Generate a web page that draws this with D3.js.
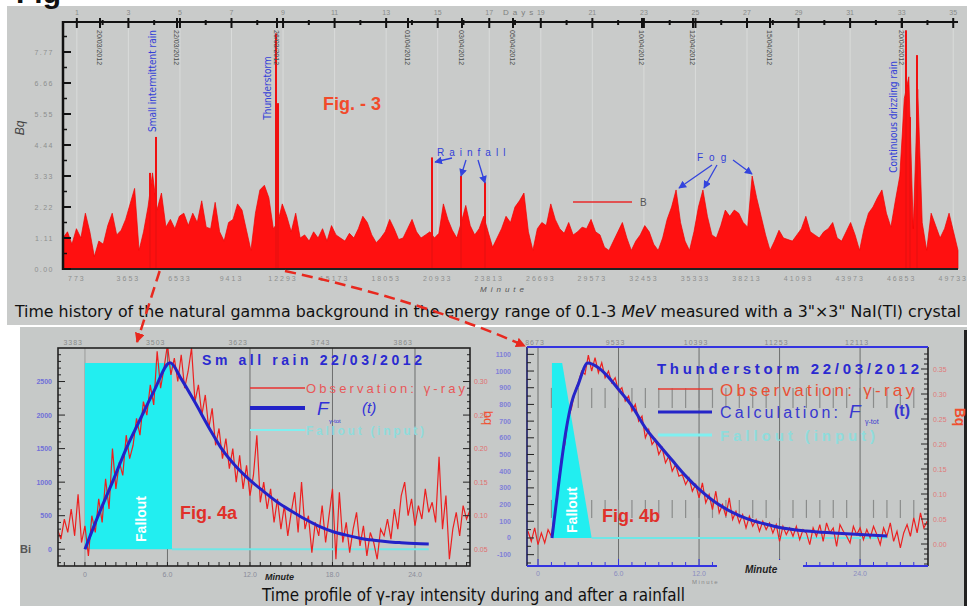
<!DOCTYPE html>
<html>
<head>
<meta charset="utf-8">
<script src="https://cdn.jsdelivr.net/npm/d3@7"></script>
<style>
  html, body { margin: 0; padding: 0; background: #fff; }
  svg text { font-family: "Liberation Sans", Arial, sans-serif; }
</style>
</head>
<body>
<div id="fig"></div>
<script>
// ---------------- data ----------------

// Fig 3: background count rate, one reading every 250 minutes (axis units)
let bgStep = 250;
let bgValues = [
  1.0,1.2,0.8,1.3,1.0,1.8,1.2,0.4,0.9,0.8,
  1.4,1.8,1.1,1.25,1.6,2.1,2.6,0.6,1.2,2.0,
  3.1,1.9,2.45,1.35,1.6,1.3,1.7,1.8,1.4,1.8,
  1.5,2.2,1.35,1.3,2.15,1.2,0.9,1.5,1.6,2.1,
  1.9,1.25,0.6,1.8,2.55,2.7,2.3,1.3,1.5,2.1,
  1.7,1.2,1.8,1.0,1.1,0.9,1.2,1.0,1.3,0.9,
  1.4,1.1,1.0,0.9,1.15,1.0,1.3,1.7,1.5,1.1,
  0.85,1.0,1.2,1.6,1.3,0.95,1.0,1.3,1.6,1.2,
  1.0,1.1,1.2,1.0,1.15,2.1,1.6,1.25,1.0,1.5,
  2.05,1.4,1.1,1.3,1.7,1.2,0.7,1.0,1.3,1.7,
  1.5,2.0,2.2,2.45,1.2,0.6,1.3,1.5,1.4,2.1,
  1.6,1.3,1.15,1.5,1.1,1.2,1.35,1.3,1.6,1.2,
  1.1,0.7,0.6,0.9,1.2,1.5,1.0,0.6,0.9,1.1,
  1.4,1.2,0.8,0.6,1.0,1.6,2.0,2.55,1.5,0.9,
  0.6,1.2,2.0,2.55,1.7,1.1,1.0,1.4,1.9,1.7,
  1.9,1.8,1.5,1.35,3.0,2.3,1.7,1.1,0.6,0.9,
  1.25,1.0,0.95,0.9,1.1,1.3,1.7,1.2,1.1,1.0,
  1.2,1.3,1.5,1.0,0.9,1.2,1.5,1.1,0.6,1.3,
  1.8,2.0,2.3,2.55,1.8,1.35,2.2,3.0,5.5,6.2,
  1.3,5.8,1.5,0.6,1.8,1.4,1.0,1.3,1.8,1.2,
  0.6
];
// narrow rain spikes (minute, value)
let spikeMinutes = [4860, 5196, 11899, 12011, 20615, 22235, 23575, 47095, 47318, 47709];
let spikeValues  = [3.1, 4.26, 7.6, 5.35, 3.6, 3.0, 2.8, 7.7, 4.9, 6.9];

let dayLabels = [1,3,5,7,9,11,13,15,17,19,21,23,25,27,29,31,33,35];
let dayMinutes = [773,3653,6533,9413,12293,15173,18053,20933,23813,26693,29573,32453,35333,38213,41093,43973,46853,49733];
let topYLabels = ["0.00","1.11","2.22","3.33","4.44","5.55","6.66","7.77"];
let dateLabels = ["20/03/2012","22/03/2012","26/03/2012","01/04/2012","03/04/2012","05/04/2012","10/04/2012","12/04/2012","15/04/2012","20/04/2012"];
let dateMinutes = [2067, 6369, 11955, 19274, 22291, 25140, 32346, 35196, 39497, 46872];

// Fig 4a: small rain, observation every 0.25 from t = -2
let obsA_t0 = -2, obsA_dt = 0.25;
let obsA = [
  300,150,450,250,600,200,820,100,350,-100,
  500,250,750,400,1050,600,1500,900,1300,1100,
  1700,1350,1550,1950,1700,2200,2000,2450,2150,2950,
  2400,2700,3050,2600,2850,2500,2900,2400,2650,3000,
  2200,2450,2000,2300,1800,2100,1550,1800,1350,1650,
  1200,1500,1000,1400,900,1250,800,1100,1700,700,
  1000,600,900,400,750,300,650,200,550,850,
  250,1000,300,500,-50,400,200,650,100,500,
  900,-150,850,100,400,-50,300,550,50,350,
  -100,250,100,-150,300,200,450,150,600,300,
  800,1000,500,750,350,650,450,900,550,700,
  400,1380,300,800,-150,300,550,200,650,450,
  580
];
let fitA_t = [0,1,2,3,4,5,6.2,7,8,9,10,11,12,13,14,15,16,17,18,19,20,21,22,23,24,25];
let fitA_v = [0,520,1000,1500,1930,2350,2780,2540,2190,1820,1480,1230,1030,860,700,570,450,345,265,210,165,135,112,97,85,78];
let fallA_t = [0, 6.33, 25];   // start, end of input, end of zero line
let fallA_top = 2776;
let xLabelsA = ["0","6.0","12.0","18.0","24.0"];
let xTicksA = [0,6,12,18,24];
let topLabelsA = ["3383","3503","3623","3743","3863"];
let yTicksA = [0,500,1000,1500,2000,2500];
let rightLabelsA = ["0.05","0.10","0.15","0.20","0.25","0.30"];

// Fig 4b: thunderstorm, observation every 0.25 from t = -0.75
let obsB_t0 = -0.75, obsB_dt = 0.25;
let obsB = [
  40,-20,60,-40,30,-30,50,10,150,320,
  480,560,720,780,880,930,1000,980,1095,1000,
  1080,990,1050,960,1000,930,960,880,900,820,
  850,760,800,700,730,600,650,560,590,500,
  540,450,490,400,440,370,380,320,360,280,
  320,240,330,210,260,170,280,150,200,130,
  240,110,160,90,140,60,130,70,110,40,
  100,50,90,30,80,-20,70,20,60,10,
  70,-10,50,30,-40,60,10,80,-20,90,
  30,60,-50,80,40,10,-30,70,20,60,
  -10,50,0,70,20,-40,60,10,90,-20,
  40,-60,30,80,10,120,30,150,60,100
];
let fitB_t = [1.04,1.5,2.1,2.5,3.0,3.7,4.5,5.4,6,7,8,9,10,11,12,13,14,15,16,17,18,20,22,24,26];
let fitB_v = [0,300,650,810,920,1048,1020,950,890,790,660,560,465,372,292,226,174,134,104,82,63,42,30,20,12];
let fallB_t = [1.04, 1.8, 4.0, 1.04];
let fallB_v = [1048, 1048, 0, 0];
let fallB_lineEnd = 26;
let yTicksB = [-100,0,100,200,300,400,500,600,700,800,900,1000,1100];
let xLabelsB = ["0","6.0","12.0","18.0","24.0"];
let xTicksB = [0,6,12,18,24];
let topLabelsB = ["8673","9533","10393","11253","12113"];
let rightTicksB = [0,0.05,0.10,0.15,0.20,0.25,0.30,0.35];
let greyRowT = d3.range(1, 29);
let greyRows = [[779, 899], [120, 228]];

// ---------------- drawing ----------------
const BLUE = "#2a2ad0", CYAN = "#22eef0";

let svg = d3.select("#fig")
    .append("svg")
    .attr("width", 967)
    .attr("height", 606);

let defs = svg.append("defs");
function marker(id, color, size) {
    defs.append("marker").attr("id", id)
        .attr("viewBox", "0 0 10 10").attr("refX", 9).attr("refY", 5)
        .attr("markerWidth", size).attr("markerHeight", size)
        .attr("orient", "auto")
        .append("path").attr("d", "M0,0L10,5L0,10z").attr("fill", color);
}
marker("arrBlue", "#3344dd", 6);
marker("arrRed", "#e8281e", 4);

// backgrounds
svg.append("rect").attr("x", 7).attr("y", 6).attr("width", 960).attr("height", 319).attr("fill", "#c9cbca");
svg.append("rect").attr("x", 20).attr("y", 327).attr("width", 947).attr("height", 279).attr("fill", "#c6c9c8");
svg.append("rect").attr("x", 964).attr("y", 330).attr("width", 3).attr("height", 276).attr("fill", "#222");

// cropped heading at the very top (only its lower edge shows)
svg.append("text").attr("x", 16).attr("y", 3)
    .style("font-size", "30px").style("font-weight", "bold").attr("fill", "#111")
    .text("Fig");

// ======== Fig 3 (top) ========
let gTop = svg.append("g");
let xT = d3.scaleLinear().domain([0, 50000]).range([63, 958]);
let yT = d3.scaleLinear().domain([0, 8]).range([269, 21]);

// faint day grid
gTop.selectAll(".dgrid").data(dayMinutes).enter().append("line")
    .attr("x1", function(d) { return xT(d); }).attr("x2", function(d) { return xT(d); })
    .attr("y1", 23).attr("y2", 268)
    .attr("stroke", "#d9dbda").attr("stroke-width", 1);

// the background signal
let bgArea = d3.area()
    .x(function(d, i) { return xT(i * bgStep); })
    .y0(yT(0))
    .y1(function(d) { return yT(d); });
gTop.append("path").datum(bgValues)
    .attr("d", bgArea)
    .attr("fill", "#ff1010").attr("stroke", "#f00000").attr("stroke-width", 0.7);

gTop.selectAll(".spike").data(spikeMinutes).enter().append("line")
    .attr("x1", function(d) { return xT(d); }).attr("x2", function(d) { return xT(d); })
    .attr("y1", yT(0)).attr("y2", function(d, i) { return yT(spikeValues[i]); })
    .attr("stroke", "#f01010").attr("stroke-width", 2);

// axes
gTop.append("line").attr("x1", 63).attr("x2", 958).attr("y1", yT(8) + 1).attr("y2", yT(8) + 1).attr("stroke", "#111").attr("stroke-width", 2);
gTop.append("line").attr("x1", 63).attr("x2", 958).attr("y1", yT(0)).attr("y2", yT(0)).attr("stroke", "#222").attr("stroke-width", 2);
gTop.append("line").attr("x1", 63).attr("x2", 63).attr("y1", 21).attr("y2", 270).attr("stroke", "#111").attr("stroke-width", 2.5);

gTop.selectAll(".dtick").data(dayMinutes).enter().append("line")
    .attr("x1", function(d) { return xT(d); }).attr("x2", function(d) { return xT(d); })
    .attr("y1", 18).attr("y2", 28).attr("stroke", "#111").attr("stroke-width", 2);
gTop.selectAll(".mtick").data(dayMinutes.slice(0, -1)).enter().append("line")
    .attr("x1", function(d) { return xT(d + 1440); }).attr("x2", function(d) { return xT(d + 1440); })
    .attr("y1", 20).attr("y2", 25).attr("stroke", "#111").attr("stroke-width", 2);
gTop.selectAll(".dlab").data(dayLabels).enter().append("text")
    .attr("x", function(d, i) { return xT(dayMinutes[i]); }).attr("y", 15)
    .style("text-anchor", "middle").style("font-size", "7px").attr("fill", "#8a8c8b")
    .text(function(d) { return d; });
gTop.append("text").attr("x", 503).attr("y", 15)
    .style("font-size", "8px").style("letter-spacing", "4px").attr("fill", "#7d7f7e").text("Days");

// date ticks and rotated dates
gTop.selectAll(".datetick").data(dateMinutes).enter().append("line")
    .attr("x1", function(d) { return xT(d); }).attr("x2", function(d) { return xT(d); })
    .attr("y1", 18).attr("y2", 28).attr("stroke", "#111").attr("stroke-width", 2);
gTop.selectAll(".datelab").data(dateLabels).enter().append("text")
    .attr("transform", function(d, i) { return `translate(${xT(dateMinutes[i]) - 3}, 30) rotate(90)`; })
    .style("font-size", "7px").attr("fill", "#4a4c4b")
    .text(function(d) { return d; });

// left axis ticks + labels
gTop.selectAll(".ytick").data(d3.range(0, 8)).enter().append("line")
    .attr("x1", 63).attr("x2", 71)
    .attr("y1", function(d) { return yT(d); }).attr("y2", function(d) { return yT(d); })
    .attr("stroke", "#111").attr("stroke-width", 2);
gTop.selectAll(".ymin").data(d3.range(0.5, 8, 1)).enter().append("line")
    .attr("x1", 63).attr("x2", 67)
    .attr("y1", function(d) { return yT(d); }).attr("y2", function(d) { return yT(d); })
    .attr("stroke", "#111").attr("stroke-width", 1.5);
gTop.selectAll(".ylab").data(topYLabels).enter().append("text")
    .attr("x", 54).attr("y", function(d, i) { return yT(i) + 2.5; })
    .style("text-anchor", "end").style("font-size", "7px").style("letter-spacing", "1.5px")
    .attr("fill", "#8d8f8e")
    .text(function(d) { return d; });
gTop.append("text").attr("transform", "translate(24, 128) rotate(-90)")
    .style("text-anchor", "middle").style("font-size", "12px").style("font-style", "italic")
    .attr("fill", "#444").text("Bq");

// bottom minute labels
gTop.selectAll(".mlab").data(dayMinutes).enter().append("text")
    .attr("x", function(d) { return xT(d); }).attr("y", 281)
    .style("text-anchor", "middle").style("font-size", "7px").style("letter-spacing", "2px")
    .attr("fill", "#8d8f8e")
    .text(function(d) { return d; });
gTop.append("text").attr("x", 480).attr("y", 292)
    .style("font-size", "8px").style("font-style", "italic").style("letter-spacing", "4px")
    .attr("fill", "#555").text("Minute");

// annotations
function vlabel(x, y, txt, size) {
    gTop.append("text").attr("transform", `translate(${x}, ${y}) rotate(-90)`)
        .style("text-anchor", "middle").style("dominant-baseline", "middle")
        .style("font-family", "'DejaVu Sans Condensed', 'Liberation Sans Narrow', sans-serif")
        .style("font-size", size + "px").attr("fill", "#3340d8").text(txt);
}
vlabel(153, 81, "Small intermittent rain", 10);
vlabel(268, 88, "Thunderstorm", 10);
vlabel(894, 117, "Continuous drizzling rain", 10);

gTop.append("text").attr("x", 323).attr("y", 110)
    .style("font-size", "18px").style("font-weight", "bold").attr("fill", "#f24a2a")
    .text("Fig. - 3");

gTop.append("text").attr("x", 437).attr("y", 156)
    .style("font-size", "10px").style("letter-spacing", "5px").attr("fill", "#3340d8")
    .text("Rainfall");
gTop.append("text").attr("x", 697).attr("y", 161)
    .style("font-size", "10px").style("letter-spacing", "6px").attr("fill", "#3340d8")
    .text("Fog");
let arrowsTop = [
    [452, 158, xT(20615) + 3, 162],
    [466, 160, xT(22235), 176],
    [478, 160, xT(23575), 183],
    [712, 165, 679, 188],
    [717, 165, 704, 188],
    [733, 160, 752, 174]
];
gTop.selectAll(".ann").data(arrowsTop).enter().append("line")
    .attr("x1", function(d) { return d[0]; }).attr("y1", function(d) { return d[1]; })
    .attr("x2", function(d) { return d[2]; }).attr("y2", function(d) { return d[3]; })
    .attr("stroke", "#3344dd").attr("stroke-width", 1.3).attr("marker-end", "url(#arrBlue)");

// legend "B"
gTop.append("line").attr("x1", 573).attr("x2", 632).attr("y1", 202).attr("y2", 202)
    .attr("stroke", "#e82a2a").attr("stroke-width", 1.5);
gTop.append("text").attr("x", 640).attr("y", 206).style("font-size", "10px").attr("fill", "#555").text("B");

// caption
let cap1 = svg.append("text").attr("x", 15).attr("y", 317)
    .attr("textLength", 946).attr("lengthAdjust", "spacingAndGlyphs")
    .style("font-family", "'Liberation Sans Narrow', 'DejaVu Sans Condensed', sans-serif")
    .style("font-size", "16px").attr("fill", "#111");
cap1.append("tspan").text("Time history of the natural gamma background in the energy range of 0.1-3 ");
cap1.append("tspan").style("font-style", "italic").text("MeV");
cap1.append("tspan").text(" measured with a 3\"\u00d73\" NaI(Tl)  crystal");

// ======== Fig 4a ========
let ga = svg.append("g");
let xA = d3.scaleLinear().domain([-1.96, 28]).range([58, 470]);
let yA = d3.scaleLinear().domain([-250, 3000]).range([566, 348]);

ga.append("clipPath").attr("id", "clipA").append("rect")
    .attr("x", 58).attr("y", 348).attr("width", 412).attr("height", 218);

ga.selectAll(".grid").data(xTicksA).enter().append("line")
    .attr("x1", function(d) { return xA(d); }).attr("x2", function(d) { return xA(d); })
    .attr("y1", 348).attr("y2", 566)
    .attr("stroke", function(d) { return d === 0 ? "#9a9c9b" : "#6c6e6d"; }).attr("stroke-width", 1);

ga.append("rect")
    .attr("x", xA(fallA_t[0])).attr("y", yA(fallA_top))
    .attr("width", xA(fallA_t[1]) - xA(fallA_t[0])).attr("height", yA(0) - yA(fallA_top))
    .attr("fill", CYAN);
ga.append("line").attr("x1", xA(fallA_t[1])).attr("x2", xA(fallA_t[2]))
    .attr("y1", yA(0)).attr("y2", yA(0)).attr("stroke", "#6fe6e6").attr("stroke-width", 2);

let obsLineA = d3.line()
    .x(function(d, i) { return xA(obsA_t0 + i * obsA_dt); })
    .y(function(d) { return yA(d); });
ga.append("path").datum(obsA).attr("d", obsLineA).attr("clip-path", "url(#clipA)")
    .attr("fill", "none").attr("stroke", "#ec2020").attr("stroke-width", 1.2);

let fitLineA = d3.line()
    .x(function(d, i) { return xA(fitA_t[i]); })
    .y(function(d) { return yA(d); })
    .curve(d3.curveMonotoneX);
ga.append("path").datum(fitA_v).attr("d", fitLineA)
    .attr("fill", "none").attr("stroke", "#2222c8").attr("stroke-width", 3);

// frame + ticks
ga.append("rect").attr("x", 58).attr("y", 348).attr("width", 412).attr("height", 218)
    .attr("fill", "none").attr("stroke", "#222").attr("stroke-width", 1.6);
ga.selectAll(".bt").data(d3.range(-1.5, 28, 0.75)).enter().append("line")
    .attr("x1", function(d) { return xA(d); }).attr("x2", function(d) { return xA(d); })
    .attr("y1", 566).attr("y2", 562).attr("stroke", "#222");
ga.selectAll(".lt").data(d3.range(-200, 3000, 100)).enter().append("line")
    .attr("x1", 58).attr("x2", function(d) { return d % 500 === 0 ? 65 : 61; })
    .attr("y1", function(d) { return yA(d); }).attr("y2", function(d) { return yA(d); })
    .attr("stroke", "#222");
ga.selectAll(".rt").data(d3.range(-200, 3000, 100)).enter().append("line")
    .attr("x1", 470).attr("x2", function(d) { return d % 500 === 0 ? 463 : 467; })
    .attr("y1", function(d) { return yA(d); }).attr("y2", function(d) { return yA(d); })
    .attr("stroke", "#222");

ga.selectAll(".xl").data(xLabelsA).enter().append("text")
    .attr("x", function(d, i) { return xA(xTicksA[i]); }).attr("y", 577)
    .style("text-anchor", "middle").style("font-size", "7px").attr("fill", "#8a8c9a")
    .text(function(d) { return d; });
ga.selectAll(".tl").data(topLabelsA).enter().append("text")
    .attr("x", function(d, i) { return xA(xTicksA[i]) - 2; }).attr("y", 345)
    .style("text-anchor", "end").style("font-size", "7px").style("letter-spacing", "1px").attr("fill", "#8a8c8b")
    .text(function(d) { return d; });
ga.selectAll(".yl").data(yTicksA).enter().append("text")
    .attr("x", 52).attr("y", function(d) { return yA(d) + 2.5; })
    .style("text-anchor", "end").style("font-size", "7px").style("font-weight", "bold").attr("fill", "#7070d8")
    .text(function(d) { return d; });
ga.selectAll(".rl").data(rightLabelsA).enter().append("text")
    .attr("x", 474).attr("y", function(d, i) { return yA(yTicksA[i]) + 2.5; })
    .style("font-size", "7px").attr("fill", "#e07070")
    .text(function(d) { return d; });
ga.append("text").attr("transform", "translate(484, 418) rotate(90)")
    .style("text-anchor", "middle").style("font-size", "13px").attr("fill", "#f05030").text("bq");
ga.append("text").attr("x", 20).attr("y", 553).style("font-size", "11px").style("font-weight", "bold")
    .attr("fill", "#555").text("Bi");
ga.append("text").attr("x", 265).attr("y", 580).style("font-size", "9px").style("font-weight", "bold")
    .style("font-style", "italic").attr("fill", "#222").text("Minute");

// title + legend
ga.append("text").attr("x", 202).attr("y", 365).attr("textLength", 220).attr("lengthAdjust", "spacing")
    .style("font-size", "14px").style("font-weight", "bold").attr("fill", BLUE)
    .text("Sm all rain 22/03/2012");
ga.append("line").attr("x1", 250).attr("x2", 305).attr("y1", 388).attr("y2", 388).attr("stroke", "#e83030").attr("stroke-width", 1.3);
ga.append("text").attr("x", 306).attr("y", 393).attr("textLength", 159).attr("lengthAdjust", "spacing")
    .style("font-size", "13px").attr("fill", "#e85858").text("Observation: \u03b3-ray");
ga.append("line").attr("x1", 250).attr("x2", 305).attr("y1", 408).attr("y2", 408).attr("stroke", "#2222c8").attr("stroke-width", 4);
ga.append("text").attr("x", 317).attr("y", 415).style("font-size", "19px").style("font-style", "italic").attr("fill", "#3030d8").text("F");
ga.append("text").attr("x", 329).attr("y", 423).style("font-size", "6px").attr("fill", "#3030d8").text("\u03b3-tot");
ga.append("text").attr("x", 362).attr("y", 413).style("font-size", "15px").style("font-style", "italic").attr("fill", "#3030d8").text("(t)");
ga.append("line").attr("x1", 250).attr("x2", 305).attr("y1", 430).attr("y2", 430).attr("stroke", "#7ff0f0").attr("stroke-width", 2);
ga.append("text").attr("x", 306).attr("y", 435).attr("textLength", 118).attr("lengthAdjust", "spacing")
    .style("font-size", "12px").style("font-weight", "bold").attr("fill", "#8fdcdc").text("Fallout (input)");

ga.append("text").attr("transform", "translate(142, 519) rotate(-90)")
    .style("text-anchor", "middle").style("dominant-baseline", "middle")
    .style("font-size", "14px").style("font-weight", "bold").attr("fill", "#fff").text("Fallout");
ga.append("text").attr("x", 180).attr("y", 519).style("font-size", "18px").style("font-weight", "bold")
    .attr("fill", "#e0302a").text("Fig. 4a");

// ======== Fig 4b ========
let gb = svg.append("g");
let xB = d3.scaleLinear().domain([-0.82, 29.06]).range([527, 928]);
let yB = d3.scaleLinear().domain([-168, 1144]).range([566, 347]);
let yBr = d3.scaleLinear().domain([-0.044, 0.394]).range([566, 347]);

gb.append("clipPath").attr("id", "clipB").append("rect")
    .attr("x", 527).attr("y", 347).attr("width", 401).attr("height", 219);

gb.selectAll(".grid").data(xTicksB).enter().append("line")
    .attr("x1", function(d) { return xB(d); }).attr("x2", function(d) { return xB(d); })
    .attr("y1", 347).attr("y2", 566).attr("stroke", "#6c6e6d").attr("stroke-width", 1);

// rows of short grey bars
greyRows.forEach(function(r) {
    gb.selectAll(null).data(greyRowT).enter().append("line")
        .attr("x1", function(d) { return xB(d); }).attr("x2", function(d) { return xB(d); })
        .attr("y1", yB(r[0])).attr("y2", yB(r[1]))
        .attr("stroke", "#8a8c8b").attr("stroke-width", 1.2);
});

let fallPoly = fallB_t.map(function(t, i) { return [xB(t), yB(fallB_v[i])]; });
gb.append("path").attr("d", "M" + fallPoly.join("L") + "Z").attr("fill", CYAN);
gb.append("line").attr("x1", xB(fallB_t[2])).attr("x2", xB(fallB_lineEnd))
    .attr("y1", yB(0)).attr("y2", yB(0)).attr("stroke", "#6fe6e6").attr("stroke-width", 2);

let obsLineB = d3.line()
    .x(function(d, i) { return xB(obsB_t0 + i * obsB_dt); })
    .y(function(d) { return yB(d); });
gb.append("path").datum(obsB).attr("d", obsLineB).attr("clip-path", "url(#clipB)")
    .attr("fill", "none").attr("stroke", "#ec2020").attr("stroke-width", 1.2);

let fitLineB = d3.line()
    .x(function(d, i) { return xB(fitB_t[i]); })
    .y(function(d) { return yB(d); })
    .curve(d3.curveMonotoneX);
gb.append("path").datum(fitB_v).attr("d", fitLineB)
    .attr("fill", "none").attr("stroke", "#2525c8").attr("stroke-width", 3);

// frame
gb.append("line").attr("x1", 527).attr("x2", 527).attr("y1", 347).attr("y2", 566).attr("stroke", "#1a1a60").attr("stroke-width", 1.6);
gb.append("line").attr("x1", 928).attr("x2", 928).attr("y1", 347).attr("y2", 566).attr("stroke", "#222").attr("stroke-width", 1.6);
gb.append("line").attr("x1", 527).attr("x2", 928).attr("y1", 347).attr("y2", 347).attr("stroke", "#3434e0").attr("stroke-width", 2);
gb.append("line").attr("x1", 527).attr("x2", 928).attr("y1", 566).attr("y2", 566).attr("stroke", "#3434e0").attr("stroke-width", 2);

gb.selectAll(".bt").data(d3.range(0, 29, 1)).enter().append("line")
    .attr("x1", function(d) { return xB(d); }).attr("x2", function(d) { return xB(d); })
    .attr("y1", 566).attr("y2", function(d) { return d % 6 === 0 ? 559 : 562; })
    .attr("stroke", "#3434e0");
gb.selectAll(".lt").data(d3.range(-150, 1150, 50)).enter().append("line")
    .attr("x1", 527).attr("x2", function(d) { return d % 100 === 0 ? 534 : 531; })
    .attr("y1", function(d) { return yB(d); }).attr("y2", function(d) { return yB(d); })
    .attr("stroke", "#222");
gb.selectAll(".rt").data(d3.range(-0.04, 0.39, 0.01)).enter().append("line")
    .attr("x1", 928).attr("x2", function(d, i) { return i % 5 === 4 ? 921 : 924; })
    .attr("y1", function(d) { return yBr(d); }).attr("y2", function(d) { return yBr(d); })
    .attr("stroke", "#222");

gb.selectAll(".yl").data(yTicksB).enter().append("text")
    .attr("x", 511).attr("y", function(d) { return yB(d) + 2.5; })
    .style("text-anchor", "end").style("font-size", "7px").style("font-weight", "bold").attr("fill", "#8080d8")
    .text(function(d) { return d; });
gb.selectAll(".rl").data(rightTicksB).enter().append("text")
    .attr("x", 933).attr("y", function(d) { return yBr(d) + 2.5; })
    .style("font-size", "7px").attr("fill", "#e07a7a")
    .text(function(d) { return d.toFixed(2); });
gb.append("text").attr("transform", "translate(955, 417) rotate(90)")
    .style("text-anchor", "middle").style("font-size", "14px").style("font-weight", "bold").attr("fill", "#f05030").text("Bq");
// the 18.0 label sits under the "Minute" patch in the picture, so it is left out
gb.selectAll(".xl").data(xLabelsB.filter(function(d, i) { return xTicksB[i] !== 18; })).enter().append("text")
    .attr("x", function(d) { return xB(xTicksB[xLabelsB.indexOf(d)]); }).attr("y", 576)
    .style("text-anchor", "middle").style("font-size", "7px").attr("fill", "#8a8cc0")
    .text(function(d) { return d; });
gb.selectAll(".tl").data(topLabelsB).enter().append("text")
    .attr("x", function(d, i) { return xB(xTicksB[i]) - 3; }).attr("y", 345)
    .style("text-anchor", "middle").style("font-size", "7px").style("letter-spacing", "1px").attr("fill", "#8a8c8b")
    .text(function(d) { return d; });

// "Minute" patch on the bottom axis
gb.append("rect").attr("x", 717).attr("y", 560).attr("width", 86).attr("height", 16).attr("fill", "#c6c9c8");
gb.append("text").attr("x", 745).attr("y", 573).style("font-size", "10px").style("font-weight", "bold")
    .style("font-style", "italic").attr("fill", "#222").text("Minute");
gb.append("text").attr("x", 692).attr("y", 584).style("font-size", "6px").style("letter-spacing", "1.5px")
    .attr("fill", "#888").text("Minute");

// title + legend
gb.append("text").attr("x", 657).attr("y", 374).attr("textLength", 262).attr("lengthAdjust", "spacing")
    .style("font-size", "15px").style("font-weight", "bold").attr("fill", BLUE)
    .text("Thunderstorm 22/03/2012");
gb.append("line").attr("x1", 658).attr("x2", 712).attr("y1", 389).attr("y2", 389).attr("stroke", "#e83a30").attr("stroke-width", 1.5);
gb.append("text").attr("x", 720).attr("y", 396).attr("textLength", 194).attr("lengthAdjust", "spacing")
    .style("font-size", "17px").attr("fill", "#ea5035").text("Observation: \u03b3-ray");
gb.append("line").attr("x1", 658).attr("x2", 712).attr("y1", 412).attr("y2", 412).attr("stroke", "#2525c8").attr("stroke-width", 3);
gb.append("text").attr("x", 720).attr("y", 418).attr("textLength", 118).attr("lengthAdjust", "spacing")
    .style("font-size", "16px").attr("fill", "#3838d0").text("Calculation:");
gb.append("text").attr("x", 849).attr("y", 418).style("font-size", "19px").style("font-style", "italic").attr("fill", "#3838d0").text("F");
gb.append("text").attr("x", 865).attr("y", 424).style("font-size", "7px").attr("fill", "#3838d0").text("\u03b3-tot");
gb.append("text").attr("x", 894).attr("y", 416).style("font-size", "16px").style("font-weight", "bold").attr("fill", "#3838d0").text("(t)");
gb.append("line").attr("x1", 658).attr("x2", 712).attr("y1", 435).attr("y2", 435).attr("stroke", "#7ff0f0").attr("stroke-width", 3);
gb.append("text").attr("x", 720).attr("y", 441).attr("textLength", 155).attr("lengthAdjust", "spacing")
    .style("font-size", "15px").style("font-weight", "bold").attr("fill", "#8fdcdc").text("Fallout (input)");

gb.append("text").attr("transform", "translate(573, 510) rotate(-90)")
    .style("text-anchor", "middle").style("dominant-baseline", "middle")
    .style("font-size", "14px").style("font-weight", "bold").attr("fill", "#fff").text("Fallout");
gb.append("text").attr("x", 602).attr("y", 522).style("font-size", "18px").style("font-weight", "bold")
    .attr("fill", "#e0302a").text("Fig. 4b");

// bottom caption
svg.append("text").attr("x", 262).attr("y", 601).attr("textLength", 423).attr("lengthAdjust", "spacingAndGlyphs")
    .style("font-family", "'Liberation Sans Narrow', 'DejaVu Sans Condensed', sans-serif")
    .style("font-size", "17px").attr("fill", "#111")
    .text("Time profile of \u03b3-ray intensity during and after a rainfall");

// dashed zoom arrows from Fig 3 to the two close-ups
svg.append("path").attr("d", `M${xT(5400)},271 L137,342`)
    .attr("fill", "none").attr("stroke", "#e8281e").attr("stroke-width", 2.5)
    .attr("stroke-dasharray", "11,6").attr("marker-end", "url(#arrRed)");
svg.append("path").attr("d", `M${xT(12400)},271 Q420,300 525,346`)
    .attr("fill", "none").attr("stroke", "#e8281e").attr("stroke-width", 2.5)
    .attr("stroke-dasharray", "11,6").attr("marker-end", "url(#arrRed)");
</script>
</body>
</html>
